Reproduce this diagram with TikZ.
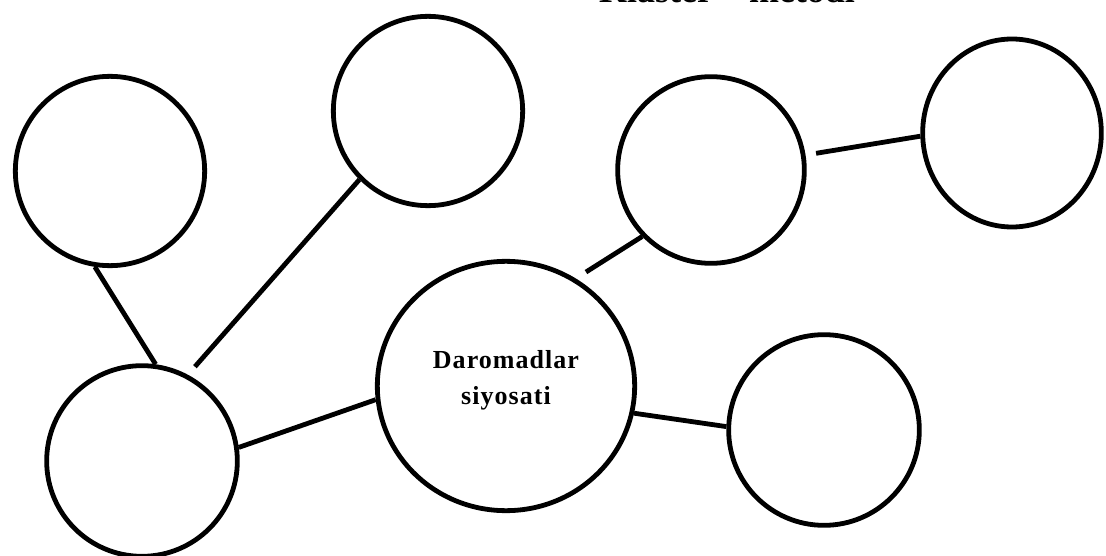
\documentclass[tikz,border=0pt]{standalone}
\usepackage{fontspec}
\setmainfont{Liberation Serif}
\usepackage{tikz}
\usetikzlibrary{shapes.geometric}
\tikzset{
  bubble/.style={draw,circle,line width=3.6pt,inner sep=0pt,minimum size=142pt},
  blob/.style={draw,ellipse,line width=3.6pt,inner sep=0pt},
  link/.style={line width=3.6pt}
}

\begin{document}
\begin{tikzpicture}[x=0.75pt,y=-0.75pt]
    \clip (0,0) rectangle (1106,556);
    \node[anchor=base,font=\bfseries\fontsize{27}{32}\selectfont] (title) at (727,3) {Klaster -- metodi};
    % cluster circles
    \node[bubble] (tl) at (110,171) {};
    \node[bubble] (tm) at (428,111) {};
    \node[bubble,minimum size=140pt] (mr) at (711,170) {};
    \node[blob,minimum width=134pt,minimum height=141pt] (fr) at (1012,133) {};
    \node[bubble,minimum size=143pt] (bl) at (142,461) {};
    \node[bubble,minimum size=143pt] (br) at (824,430) {};
    \node[blob,minimum width=193pt,minimum height=187pt] (ctr) at (506,386) {};
    \node[align=center,font=\bfseries\addfontfeatures{LetterSpace=4}\fontsize{19.5}{27}\selectfont] (ctrtext) at (506,380) {Daromadlar\\siyosati};
    % connectors
    \draw[link] (tl.-99) -- (bl.82);
    \draw[link,shorten >=8pt] (tm.225) -- (bl.62);
    \draw[link] (bl.8) -- (ctr.186);
    \draw[link,shorten <=9pt] (ctr.57) -- (mr.224);
    \draw[link,shorten <=8pt] (mr.9) -- (fr.182);
    \draw[link] (ctr.-12) -- (br.178);
  \end{tikzpicture}
\end{document}
